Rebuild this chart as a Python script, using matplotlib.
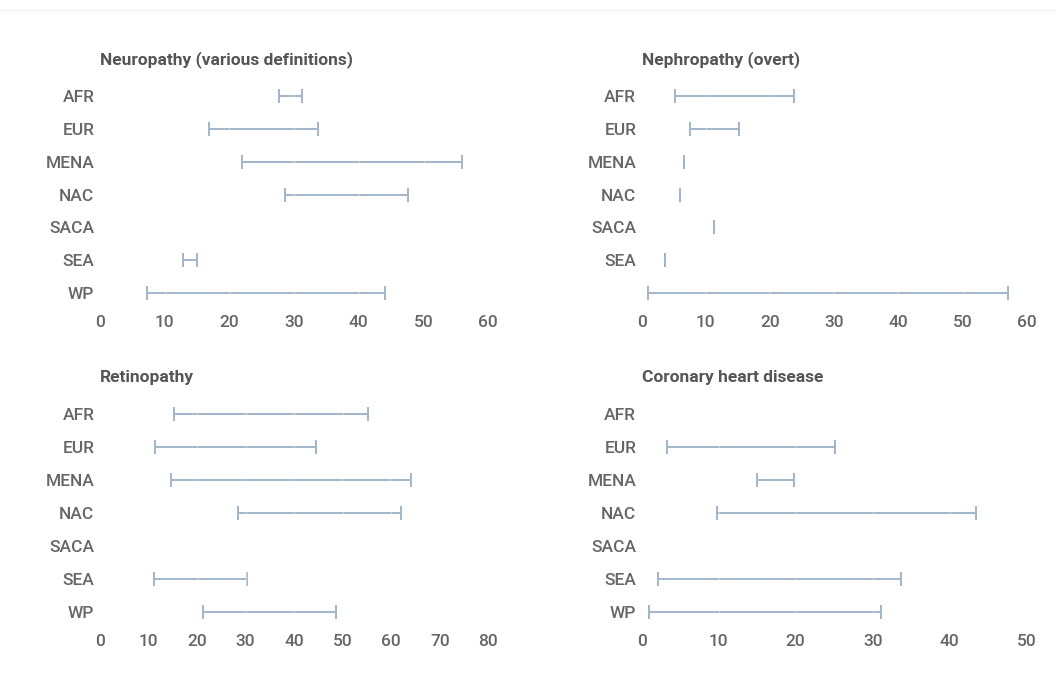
import numpy as np
import matplotlib.pyplot as plt

regions = ['AFR', 'EUR', 'MENA', 'NAC', 'SACA', 'SEA', 'WP']
nan = np.nan

# prevalence ranges (%) per region, low / high
neuro_lo = [27.6, 16.8, 22.0, 28.6, nan, 12.8, 7.3]
neuro_hi = [31.2, 33.7, 55.9, 47.6, nan, 15.0, 44.0]
nephro_lo = [5.2, 7.5, 6.6, 6.0, 11.2, 3.7, 1.0]
nephro_hi = [23.7, 15.1, 6.6, 6.0, 11.2, 3.7, 57.1]
retino_lo = [15.3, 11.4, 14.6, 28.5, nan, 11.1, 21.2]
retino_hi = [55.3, 44.6, 64.1, 62.1, nan, 30.2, 48.6]
chd_lo = [nan, 3.3, 15.0, 9.8, nan, 2.1, 0.9]
chd_hi = [nan, 25.1, 19.8, 43.4, nan, 33.7, 31.1]

nephro_labels = ['AFR', 'EUR', 'MENA', 'NAC', 'SACA', 'SEA', '']

plt.rcParams['font.family'] = ['Roboto', 'DejaVu Sans']

line_c = '#a3b5ca'
text_c = '#666666'
title_c = '#555555'

fig = plt.figure(figsize=(10.56, 6.99), dpi=100)

panels = [
    ('Neuropathy (various definitions)', neuro_lo, neuro_hi, regions, 60, 10,
     [0.0947, 0.5574, 0.3677, 0.3285]),
    ('Nephropathy (overt)', nephro_lo, nephro_hi, nephro_labels, 60, 10,
     [0.6077, 0.5574, 0.3646, 0.3285]),
    ('Retinopathy', retino_lo, retino_hi, regions, 80, 10,
     [0.0947, 0.1010, 0.3677, 0.3300]),
    ('Coronary heart disease', chd_lo, chd_hi, regions, 50, 10,
     [0.6077, 0.1010, 0.3646, 0.3300]),
]

for title, lo, hi, labels, xmax, step, pos in panels:
    ax = fig.add_axes(pos)
    lo = np.array(lo)
    hi = np.array(hi)
    y = np.arange(len(regions))
    mid = (lo + hi) / 2
    half = (hi - lo) / 2
    ax.errorbar(mid, y, xerr=half, fmt='none', ecolor=line_c, elinewidth=1.4,
                capsize=5, capthick=1.4)
    ax.set_xlim(0, xmax)
    ax.set_ylim(len(regions) - 0.5, -0.5)
    ax.set_xticks(np.arange(0, xmax + 1, step))
    ax.set_yticks(y)
    ax.set_yticklabels(labels)
    ax.tick_params(length=0, labelsize=12.5, colors=text_c, pad=4)
    for lab in ax.get_xticklabels() + ax.get_yticklabels():
        lab.set_fontweight('medium')
    for s in ax.spines.values():
        s.set_visible(False)
    ax.grid(axis='x', color='white', lw=1, alpha=0.35)
    ax.set_axisbelow(False)
    ax.set_title(title, loc='left', fontsize=12.5, fontweight='bold',
                 color=title_c, pad=11)

fig.add_artist(plt.Line2D([0, 1], [0.985, 0.985], color='#f3f3f3', lw=1))

fig.savefig('out.png', dpi=100, facecolor='white')
